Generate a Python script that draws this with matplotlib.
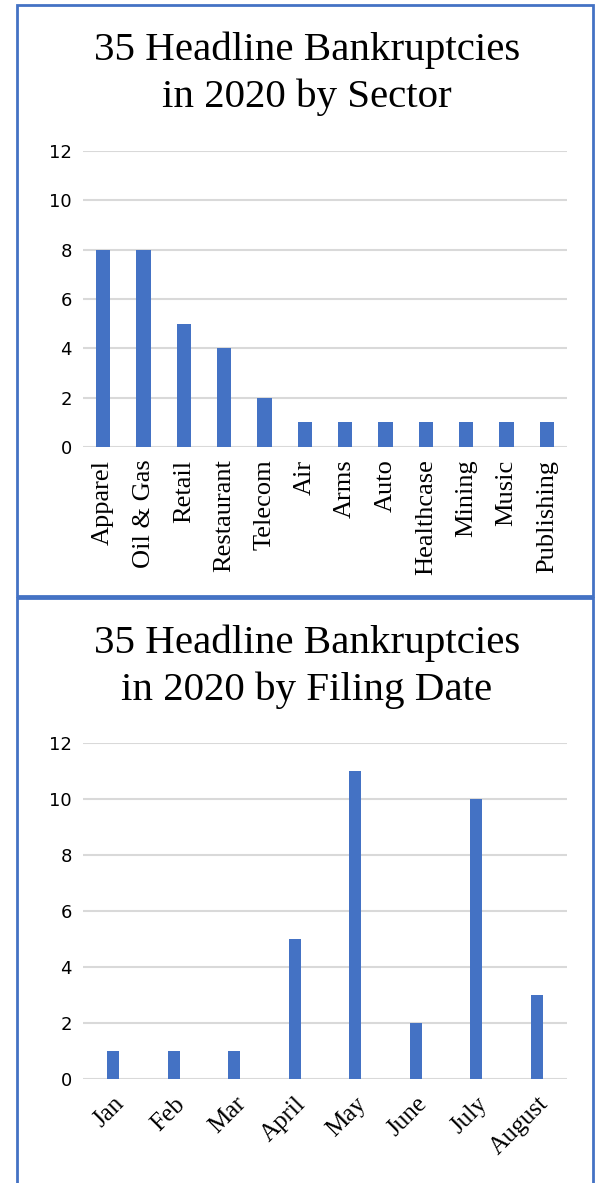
"""Two stacked bar charts: 2020 headline bankruptcies by sector and by filing month."""

import matplotlib

matplotlib.use("Agg")
import matplotlib.pyplot as plt
from matplotlib.patches import Rectangle

W, H = 600, 1183
BLUE = "#4472C4"
GRID = "#d9d9d9"
SERIF = ["Liberation Serif", "DejaVu Serif"]

sectors = ["Apparel", "Oil & Gas", "Retail", "Restaurant", "Telecom", "Air",
           "Arms", "Auto", "Healthcase", "Mining", "Music", "Publishing"]
sector_counts = [8, 8, 5, 4, 2, 1, 1, 1, 1, 1, 1, 1]

months = ["Jan", "Feb", "Mar", "April", "May", "June", "July", "August"]
month_counts = [1, 1, 1, 5, 11, 2, 10, 3]

y_ticks = [0, 2, 4, 6, 8, 10, 12]


def px_axes(fig, x0, y0, x1, y1):
    """Add axes from pixel box (top-left origin)."""
    return fig.add_axes([x0 / W, 1 - y1 / H, (x1 - x0) / W, (y1 - y0) / H])


def style(ax):
    ax.set_ylim(0, 12)
    ax.set_yticks(y_ticks)
    ax.grid(axis="y", color=GRID, linewidth=1.5)
    ax.set_axisbelow(True)
    for s in ax.spines.values():
        s.set_visible(False)
    ax.tick_params(length=0)
    ax.tick_params(axis="y", labelsize=13, pad=8)


fig = plt.figure(figsize=(W / 100, H / 100), dpi=100)

# panel borders
for y0, y1 in [(5, 596), (598, 1195)]:
    fig.patches.append(Rectangle((17 / W, 1 - y1 / H), (576 / W), (y1 - y0) / H,
                                 transform=fig.transFigure, fill=False,
                                 edgecolor=BLUE, linewidth=2))

# top: sectors
ax1 = px_axes(fig, 83, 151, 567, 447)
style(ax1)
ax1.bar(range(len(sectors)), sector_counts, width=0.35, color=BLUE)
ax1.set_xlim(-0.5, len(sectors) - 0.5)
ax1.set_xticks(range(len(sectors)))
ax1.set_xticklabels(sectors, rotation=90, family=SERIF, fontsize=19, va="top")
ax1.tick_params(axis="x", pad=9)
fig.text(307 / W, 1 - 74 / H, "35 Headline Bankruptcies\nin 2020 by Sector",
         ha="center", va="center", family=SERIF, fontsize=29.5, linespacing=1.32)

# bottom: months
ax2 = px_axes(fig, 83, 743, 567, 1079)
style(ax2)
ax2.bar(range(len(months)), month_counts, width=0.2, color=BLUE)
ax2.set_xlim(-0.5, len(months) - 0.5)
ax2.set_xticks(range(len(months)))
ax2.set_xticklabels(months, rotation=45, ha="right", rotation_mode="anchor",
                    family=SERIF, fontsize=18)
ax2.tick_params(axis="x", pad=10)
fig.text(307 / W, 1 - 667 / H, "35 Headline Bankruptcies\nin 2020 by Filing Date",
         ha="center", va="center", family=SERIF, fontsize=29.5, linespacing=1.32)

fig.savefig("out.png", dpi=100)
